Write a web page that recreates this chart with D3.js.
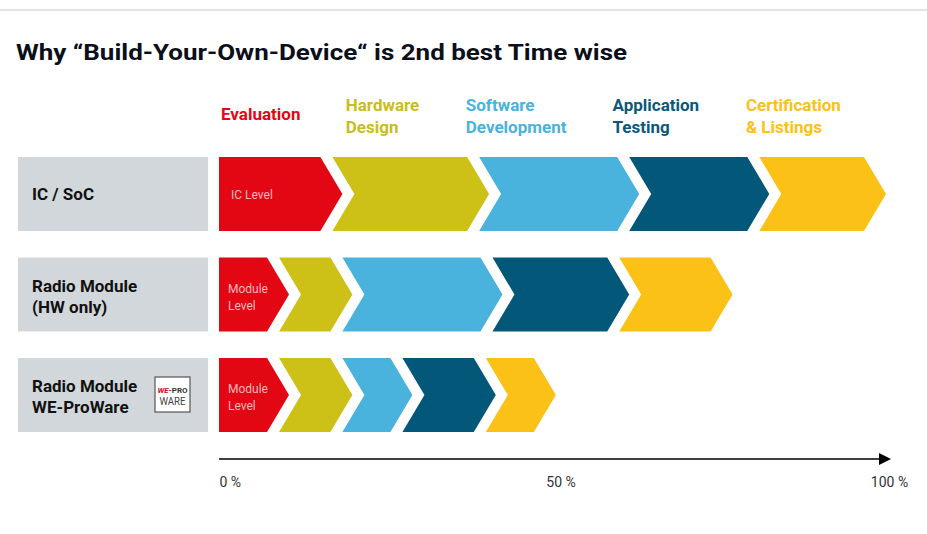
<!DOCTYPE html>
<html>
<head>
<meta charset="utf-8">
<script src="https://cdn.jsdelivr.net/npm/d3@7"></script>
<style>
  body { margin: 0; background: #fff; }
  svg { display: block; font-family: Roboto, "Noto Sans", sans-serif; }
</style>
</head>
<body>
<svg></svg>
<script>
// phases (column headers) and their colours
const phases = [["Evaluation"], ["Hardware", "Design"], ["Software", "Development"], ["Application", "Testing"], ["Certification", "& Listings"]];
const phaseColours = ["#e30613", "#cdc118", "#49b3de", "#03587a", "#fbc116"];
const headerColours = ["#e30613", "#c9bd1c", "#49b3de", "#0b5878", "#fbc116"];
const headerAt = [0.3, 19, 37, 59, 79];   // % position of each header

// rows
const rowLabels = [["IC / SoC"], ["Radio Module", "(HW only)"], ["Radio Module", "WE-ProWare"]];
const innerLabels = [["IC Level"], ["Module", "Level"], ["Module", "Level"]];

// duration of each phase, % of the IC/SoC total
const icSoc = [18.5, 22, 22.5, 19.5, 17.5];
const radioHw = [10.5, 9.5, 22.5, 19, 15.5];
const proWare = [10.5, 9.5, 9, 12.5, 9];
const rows = [icSoc, radioHw, proWare];

const axisTicks = [0, 50, 100];

const WIDTH = 927, HEIGHT = 534;
const svg = d3.select('svg').attr('width', WIDTH).attr('height', HEIGHT);

let x = d3.scaleLinear().domain([0, 100]).range([219, 886]);
let y = d3.scaleBand().domain(d3.range(rows.length)).range([157, 432]).paddingInner(0.264);

const DEPTH = 22, GAP = 12;

// top rule
svg.append('rect').attr('x', 0).attr('y', 9).attr('width', WIDTH).attr('height', 2).style('fill', '#e1e4e7');

svg.append('text').attr('x', 16).attr('y', 60)
  .style('font-size', '22px').style('font-weight', 700).style('fill', '#0b0f1a')
  .attr('textLength', 611).attr('lengthAdjust', 'spacingAndGlyphs')
  .text('Why \u201cBuild-Your-Own-Device\u201c is 2nd best Time wise');

// headers
phases.forEach(function(lines, i) {
  let hx = x(headerAt[i]);
  let t = svg.append('text').attr('x', hx)
    .attr('y', lines.length == 1 ? 120 : 111)
    .style('font-size', '17px').style('font-weight', 700).style('fill', headerColours[i]);
  lines.forEach(function(l, j) {
    t.append('tspan').attr('x', hx).attr('dy', j == 0 ? 0 : 22).text(l);
  });
});

function chevron(prev, cum, top, h, first) {
  let tip = x(cum);
  let mid = top + h / 2;
  if (first) {
    let l = x(0);
    return `M${l},${top}L${tip - DEPTH},${top}L${tip},${mid}L${tip - DEPTH},${top + h}L${l},${top + h}Z`;
  }
  let notch = x(prev) + GAP;
  let l = notch - DEPTH;
  return `M${l},${top}L${tip - DEPTH},${top}L${tip},${mid}L${tip - DEPTH},${top + h}L${l},${top + h}L${notch},${mid}Z`;
}

rows.forEach(function(durations, r) {
  let top = y(r), h = y.bandwidth();
  let g = svg.append('g');

  // label box
  g.append('rect').attr('x', 18).attr('y', top).attr('width', 190).attr('height', h).style('fill', '#d2d7db');
  let lab = rowLabels[r];
  let t = g.append('text').attr('x', 32).attr('y', lab.length == 1 ? top + h / 2 + 6 : top + h / 2 - 3)
    .style('font-size', '17px').style('font-weight', 700).style('fill', '#111');
  lab.forEach(function(l, j) {
    t.append('tspan').attr('x', 32).attr('dy', j == 0 ? 0 : 21).text(l);
  });

  let cums = d3.cumsum(durations);
  g.selectAll('path').data(durations).join('path')
    .attr('d', (d, i) => chevron(i == 0 ? 0 : cums[i - 1], cums[i], top, h, i == 0))
    .style('fill', (d, i) => phaseColours[i]);

  let inner = innerLabels[r];
  let ix = inner.length == 1 ? 231 : 228;
  let it = g.append('text').attr('x', ix)
    .attr('y', inner.length == 1 ? top + h / 2 + 5 : top + h / 2 - 2)
    .style('font-size', '12px').style('fill', '#fff').style('fill-opacity', 0.72);
  inner.forEach(function(l, j) {
    it.append('tspan').attr('x', ix).attr('dy', j == 0 ? 0 : 17).text(l);
  });
});

// WE-ProWare logo
let logo = svg.append('g').attr('transform', 'translate(155,377)');
logo.append('rect').attr('width', 35).attr('height', 35).style('fill', '#fff').style('stroke', '#555').style('stroke-width', 1.2);
let lt = logo.append('text').attr('x', 17.5).attr('y', 16).attr('text-anchor', 'middle')
  .style('font-size', '8px').style('font-weight', 700);
lt.append('tspan').style('fill', '#e30613').style('font-style', 'italic').text('WE');
lt.append('tspan').style('fill', '#333').text('-PRO');
logo.append('text').attr('x', 17.5).attr('y', 28).attr('text-anchor', 'middle')
  .style('font-size', '11px').style('fill', '#444')
  .attr('textLength', 26).attr('lengthAdjust', 'spacingAndGlyphs').text('WARE');

// axis with arrow
let axisY = 459;
let axis = svg.append('g').attr('transform', `translate(0,${axisY})`)
  .call(d3.axisBottom(x).tickValues(axisTicks).tickSize(0).tickPadding(18).tickFormat(d => d + ' %'));
axis.select('.domain').remove();
axis.selectAll('text').style('font-size', '14px').style('fill', '#333').style('font-family', 'Roboto, sans-serif')
  .attr('text-anchor', (d, i) => i == 0 ? 'start' : 'middle')
  .attr('dx', (d, i) => i == 1 ? 8 : i == 2 ? 3 : 0);

svg.append('line').attr('x1', x(0)).attr('x2', 880).attr('y1', axisY).attr('y2', axisY)
  .style('stroke', '#000').style('stroke-width', 1.5);
svg.append('path').attr('d', `M879,${axisY - 6}L891,${axisY}L879,${axisY + 6}Z`).style('fill', '#000');
</script>
</body>
</html>
